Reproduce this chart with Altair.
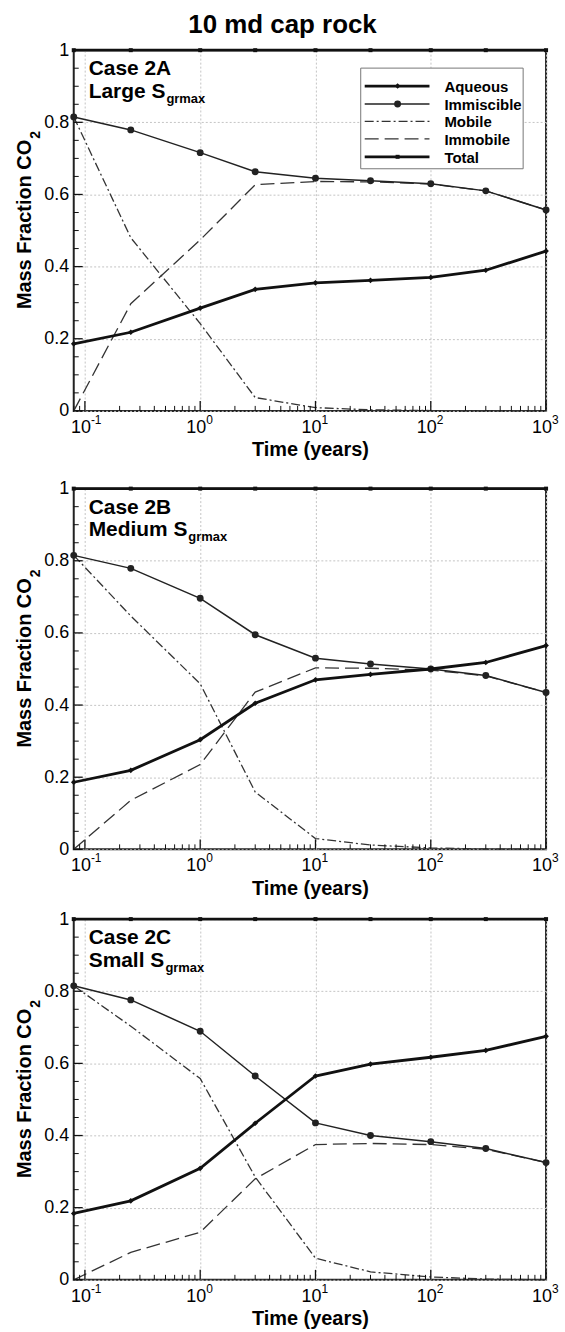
import altair as alt
import pandas as pd

# ---------------- data ----------------
times = [0.08, 0.25, 1, 3, 10, 30, 100, 300, 1000]
series_names = ["Aqueous", "Immiscible", "Mobile", "Immobile", "Total"]

aqueous_A = [0.186, 0.218, 0.285, 0.337, 0.355, 0.362, 0.370, 0.390, 0.443]
immiscible_A = [0.815, 0.779, 0.716, 0.663, 0.645, 0.638, 0.630, 0.610, 0.557]
mobile_A = [0.815, 0.480, 0.242, 0.037, 0.009, 0.003, 0.001, 0.0, 0.0]
immobile_A = [0.0, 0.297, 0.474, 0.627, 0.636, 0.635, 0.629, 0.610, 0.557]

aqueous_B = [0.186, 0.219, 0.304, 0.405, 0.470, 0.485, 0.500, 0.518, 0.565]
immiscible_B = [0.815, 0.779, 0.696, 0.595, 0.530, 0.514, 0.500, 0.482, 0.435]
mobile_B = [0.815, 0.647, 0.459, 0.159, 0.030, 0.012, 0.004, 0.001, 0.0]
immobile_B = [0.0, 0.136, 0.235, 0.436, 0.503, 0.502, 0.497, 0.481, 0.435]

aqueous_C = [0.184, 0.219, 0.309, 0.434, 0.565, 0.598, 0.617, 0.636, 0.675]
immiscible_C = [0.815, 0.776, 0.689, 0.565, 0.435, 0.400, 0.383, 0.364, 0.325]
mobile_C = [0.815, 0.703, 0.558, 0.285, 0.060, 0.022, 0.008, 0.002, 0.0]
immobile_C = [0.0, 0.076, 0.132, 0.280, 0.375, 0.378, 0.375, 0.362, 0.325]

total = [1.0, 1.0, 1.0, 1.0, 1.0, 1.0, 1.0, 1.0, 1.0]

x_major_ticks = [0.1, 1, 10, 100, 1000]
x_tick_exponents = ["-1", "0", "1", "2", "3"]
x_minor_ticks = [0.08, 0.09, 0.2, 0.3, 0.4, 0.5, 0.6, 0.7, 0.8, 0.9,
                 2, 3, 4, 5, 6, 7, 8, 9, 20, 30, 40, 50, 60, 70, 80, 90,
                 200, 300, 400, 500, 600, 700, 800, 900]
y_major_ticks = [0, 0.2, 0.4, 0.6, 0.8, 1.0]
y_minor_ticks = [0.05, 0.1, 0.15, 0.25, 0.3, 0.35, 0.45, 0.5, 0.55,
                 0.65, 0.7, 0.75, 0.85, 0.9, 0.95]

title_text = "10 md cap rock"
case_labels = ["Case 2A", "Case 2B", "Case 2C"]
size_labels = ["Large S", "Medium S", "Small S"]
subscript_label = "grmax"

# ---------------- styling ----------------
FONT = "Liberation Sans"
W, H = 474, 362
XS = alt.Scale(type="log", domain=[0.08, 1000], nice=False)
YS = alt.Scale(domain=[0, 1], nice=False, zero=False)
INK = "#111111"

XAXIS = alt.Axis(values=x_major_ticks, labels=False, ticks=False, domain=False,
                 grid=True, gridColor="#c4c4c4", gridDash=[2, 2], gridWidth=1,
                 title="Time (years)", titleFont=FONT, titleFontSize=20,
                 titleFontWeight="bold", titleColor="black",
                 titleBaseline="alphabetic", titlePadding=45)
YAXIS = alt.Axis(values=y_major_ticks, ticks=False, domain=False,
                 grid=True, gridColor="#c4c4c4", gridDash=[2, 2], gridWidth=1,
                 labelFont=FONT, labelFontSize=18, labelColor="black",
                 labelPadding=5,
                 labelExpr="datum.value == 0 ? '0' : datum.value == 1 ? '1' : format(datum.value, '.1f')",
                 title=None)

line_styles = {
    "Aqueous": dict(color=INK, strokeWidth=2.8),
    "Immiscible": dict(color="#222222", strokeWidth=1.5),
    "Mobile": dict(color="#333333", strokeWidth=1.3, strokeDash=[9, 3, 2, 3]),
    "Immobile": dict(color="#333333", strokeWidth=1.3, strokeDash=[14, 6]),
    "Total": dict(color=INK, strokeWidth=2.8),
}
marker_styles = {
    "Aqueous": dict(shape="diamond", size=32),
    "Immiscible": dict(shape="circle", size=48),
    "Total": dict(shape="square", size=16),
}


def text_layer(s, x, y, **kw):
    return alt.Chart(pd.DataFrame({"t": [s]})).mark_text(
        font=FONT, color="black", **kw
    ).encode(x=alt.value(x), y=alt.value(y), text="t:N")


def make_panel(idx, aq, im, mob, immob, with_legend):
    vals = [aq, im, mob, immob, total]
    df = pd.DataFrame({
        "time": times * 5,
        "value": sum(vals, []),
        "series": [s for s in series_names for _ in times],
    })

    base = alt.Chart(df)
    layers = []
    enc = dict(x=alt.X("time:Q", scale=XS, axis=XAXIS),
               y=alt.Y("value:Q", scale=YS, axis=YAXIS))
    for s in ["Immobile", "Mobile", "Immiscible", "Aqueous", "Total"]:
        f = base.transform_filter(alt.datum.series == s)
        layers.append(f.mark_line(**line_styles[s]).encode(**enc))
        if s in marker_styles:
            layers.append(f.mark_point(filled=True, opacity=1,
                                       color=line_styles[s]["color"],
                                       **marker_styles[s]).encode(**enc))

    # inward ticks
    xmaj = alt.Chart(pd.DataFrame({"v": x_major_ticks}))
    xmin = alt.Chart(pd.DataFrame({"v": x_minor_ticks}))
    ymaj = alt.Chart(pd.DataFrame({"v": y_major_ticks}))
    ymin = alt.Chart(pd.DataFrame({"v": y_minor_ticks}))
    xv = alt.X("v:Q", scale=XS, axis=XAXIS)
    yv = alt.Y("v:Q", scale=YS, axis=YAXIS)
    layers.append(xmaj.mark_rule(color=INK, strokeWidth=1.3).encode(
        x=xv, y=alt.value(H), y2=alt.value(H - 10)))
    layers.append(xmin.mark_rule(color=INK, strokeWidth=1).encode(
        x=xv, y=alt.value(H), y2=alt.value(H - 5)))
    layers.append(ymaj.mark_rule(color=INK, strokeWidth=1.3).encode(
        y=yv, x=alt.value(0), x2=alt.value(9)))
    layers.append(ymin.mark_rule(color=INK, strokeWidth=1).encode(
        y=yv, x=alt.value(0), x2=alt.value(5)))

    # x tick labels 10^n
    lab = alt.Chart(pd.DataFrame({"v": x_major_ticks, "e": x_tick_exponents}))
    layers.append(lab.mark_text(text="10", align="right", baseline="alphabetic", dx=6,
                                font=FONT, fontSize=18, color="black").encode(
        x=xv, y=alt.value(H + 22)))
    layers.append(lab.mark_text(align="left", baseline="alphabetic", dx=6,
                                font=FONT, fontSize=12, color="black").encode(
        x=xv, y=alt.value(H + 13), text="e:N"))

    # case annotation
    layers.append(text_layer(case_labels[idx], 15, 25, align="left",
                             baseline="alphabetic", fontSize=21, fontWeight="bold"))
    sub_x = [93, 115, 92][idx]
    layers.append(text_layer(size_labels[idx], 15, 48, align="left",
                             baseline="alphabetic", fontSize=21, fontWeight="bold"))
    layers.append(text_layer(subscript_label, sub_x, 53, align="left",
                             baseline="alphabetic", fontSize=13, fontWeight="bold"))

    # y title: Mass Fraction CO2
    layers.append(text_layer("Mass Fraction CO", -49, 90, align="right",
                             baseline="middle", angle=270, fontSize=20,
                             fontWeight="bold"))
    layers.append(text_layer("2", -49, 90, align="left", baseline="middle",
                             angle=270, dx=1, dy=11, fontSize=14,
                             fontWeight="bold"))

    if with_legend:
        layers.append(text_layer(title_text, 282.5 - 73, 32 - 49, align="center",
                                 baseline="alphabetic", fontSize=26,
                                 fontWeight="bold"))
        box = alt.Chart(pd.DataFrame({"t": [0]})).mark_rect(
            fill="white", stroke="#777777", strokeWidth=1).encode(
            x=alt.value(288), x2=alt.value(451), y=alt.value(18), y2=alt.value(119))
        layers.append(box)
        row_y = [36, 54, 71.5, 89, 107]
        for s, yy in zip(series_names, row_y):
            one = alt.Chart(pd.DataFrame({"t": [s]}))
            layers.append(one.mark_rule(**line_styles[s]).encode(
                x=alt.value(292), x2=alt.value(357), y=alt.value(yy)))
            if s in marker_styles:
                layers.append(one.mark_point(filled=True, opacity=1,
                                             color=line_styles[s]["color"],
                                             **marker_styles[s]).encode(
                    x=alt.value(325), y=alt.value(yy)))
            layers.append(one.mark_text(align="left", baseline="middle", font=FONT,
                                        fontSize=15, fontWeight="bold",
                                        color="black").encode(
                x=alt.value(372), y=alt.value(yy + 1), text="t:N"))

    return alt.layer(*layers).properties(width=W, height=H)


pA = make_panel(0, aqueous_A, immiscible_A, mobile_A, immobile_A, True)
pB = make_panel(1, aqueous_B, immiscible_B, mobile_B, immobile_B, False)
pC = make_panel(2, aqueous_C, immiscible_C, mobile_C, immobile_C, False)

chart = alt.vconcat(
    pA,
    alt.vconcat(pB, pC, spacing=70, bounds="flush"),
    spacing=78, bounds="flush",
).properties(
    padding={"left": 14, "top": 9, "right": 5, "bottom": 0},
    background="white",
).configure_view(stroke="#222222", strokeWidth=2)

chart.save("out.html", embed_options={"renderer": "svg", "actions": False})
